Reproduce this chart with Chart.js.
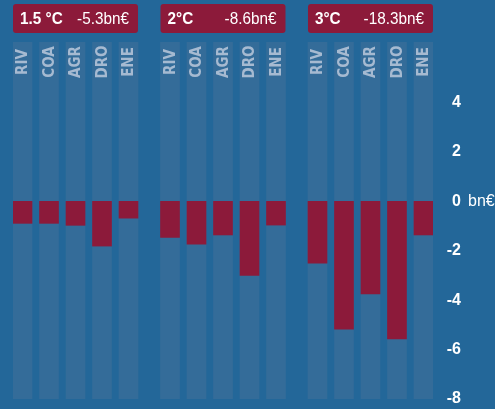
<!DOCTYPE html>
<html>
<head>
<meta charset="utf-8">
<script src="https://cdn.jsdelivr.net/npm/chart.js@4/dist/chart.umd.min.js"></script>
<style>
  html, body { margin: 0; padding: 0; background: #236799; }
  #wrap { width: 495px; height: 409px; position: relative; }
</style>
</head>
<body>
<div id="wrap"><canvas id="chart"></canvas></div>
<script>
// Data (bn€ per sector and warming level)
const scenarios = ['1.5 °C', '2°C', '3°C'];
const scenarioTotals = ['-5.3bn€', '-8.6bn€', '-18.3bn€'];
const sectors = ['RIV', 'COA', 'AGR', 'DRO', 'ENE'];
const losses15 = [-0.89, -0.89, -0.97, -1.81, -0.68];
const losses20 = [-1.46, -1.73, -1.36, -3.0, -0.96];
const losses30 = [-2.5, -5.17, -3.75, -5.57, -1.36];
const yTicks = [-8, -6, -4, -2, 0, 2, 4];
const yMin = -8;
const yMax = 6.45;

// Layout
const GROUP_STEP = 5.566;   // distance between group starts, in slot units
const HALF_BAND = 0.359;    // half bar width, in slot units
const BAR_PX = 19;
const BAND = '#346c99';
const RED = '#8c1a3a';
const LABEL = '#a6bad1';
const HEAD_FONT = '"Liberation Sans", Arial, sans-serif';
const NARROW = '"DejaVu Sans Condensed", "DejaVu Sans", sans-serif';

const groups = [losses15, losses20, losses30];
const barData = [];
const bandData = [];
const slots = [];
groups.forEach((vals, g) => {
  vals.forEach((v, i) => {
    const x = g * GROUP_STEP + i;
    barData.push({ x: x, y: v });
    bandData.push({ x: x, y: [yMin, yMax] });
    slots.push({ x: x, label: sectors[i] });
  });
});

// draw text squeezed horizontally (the original uses a condensed face)
function squeezed(ctx, text, x, y, sx) {
  ctx.save();
  ctx.translate(x, y);
  ctx.scale(sx, 1);
  ctx.fillText(text, 0, 0);
  ctx.restore();
}

// Scenario header boxes + rotated sector labels + unit on the zero tick
const decorPlugin = {
  id: 'decor',
  afterDatasetsDraw(chart) {
    const ctx = chart.ctx;
    const xs = chart.scales.x;
    ctx.save();
    // sector labels
    ctx.fillStyle = LABEL;
    ctx.font = 'bold 15px ' + NARROW;
    ctx.textAlign = 'center';
    ctx.textBaseline = 'middle';
    slots.forEach(s => {
      ctx.save();
      ctx.translate(xs.getPixelForValue(s.x), 62);
      ctx.rotate(-Math.PI / 2);
      ctx.fillText(s.label, 0, 1);
      ctx.restore();
    });
    // header boxes
    scenarios.forEach((name, g) => {
      const left = xs.getPixelForValue(g * GROUP_STEP) - BAR_PX / 2;
      const right = xs.getPixelForValue(g * GROUP_STEP + 4) + BAR_PX / 2;
      ctx.fillStyle = RED;
      ctx.beginPath();
      ctx.roundRect(left, 4, right - left, 29, 3);
      ctx.fill();
      ctx.fillStyle = '#ffffff';
      ctx.textBaseline = 'middle';
      ctx.textAlign = 'left';
      ctx.font = 'bold 17px ' + HEAD_FONT;
      squeezed(ctx, name, left + 7, 19, 0.9);
      ctx.textAlign = 'right';
      ctx.font = '17px ' + HEAD_FONT;
      squeezed(ctx, scenarioTotals[g], right - 9, 19, 0.9);
    });
    ctx.restore();
  },
  afterDraw(chart) {
    const ys = chart.scales.y;
    const ctx = chart.ctx;
    ctx.save();
    ctx.font = '16px ' + HEAD_FONT;
    ctx.fillStyle = '#ffffff';
    ctx.textAlign = 'left';
    ctx.textBaseline = 'middle';
    ctx.fillText('bn€', ys.right + 7, ys.getPixelForValue(0));
    ctx.restore();
  }
};

new Chart(document.getElementById('chart'), {
  type: 'bar',
  data: {
    datasets: [
      {
        label: 'loss',
        data: barData,
        backgroundColor: RED,
        barThickness: BAR_PX,
        grouped: false,
        order: 1
      },
      {
        label: 'band',
        data: bandData,
        backgroundColor: BAND,
        barThickness: BAR_PX,
        grouped: false,
        order: 2
      }
    ]
  },
  options: {
    responsive: true,
    maintainAspectRatio: false,
    animation: false,
    layout: { padding: { left: 13, top: 42, right: 34, bottom: 10 } },
    plugins: {
      legend: { display: false },
      tooltip: { enabled: false }
    },
    scales: {
      x: {
        type: 'linear',
        display: false,
        offset: false,
        min: -HALF_BAND,
        max: 2 * GROUP_STEP + 4 + HALF_BAND
      },
      y: {
        position: 'right',
        min: yMin,
        max: yMax,
        grid: { display: false },
        border: { display: false },
        afterBuildTicks: s => { s.ticks = yTicks.map(v => ({ value: v })); },
        afterFit: s => { s.width = 28; },
        ticks: {
          color: '#ffffff',
          crossAlign: 'far',
          padding: 0,
          font: { family: HEAD_FONT, size: 16, weight: 'bold' },
          callback: v => String(v)
        }
      }
    }
  },
  plugins: [decorPlugin]
});
</script>
</body>
</html>
